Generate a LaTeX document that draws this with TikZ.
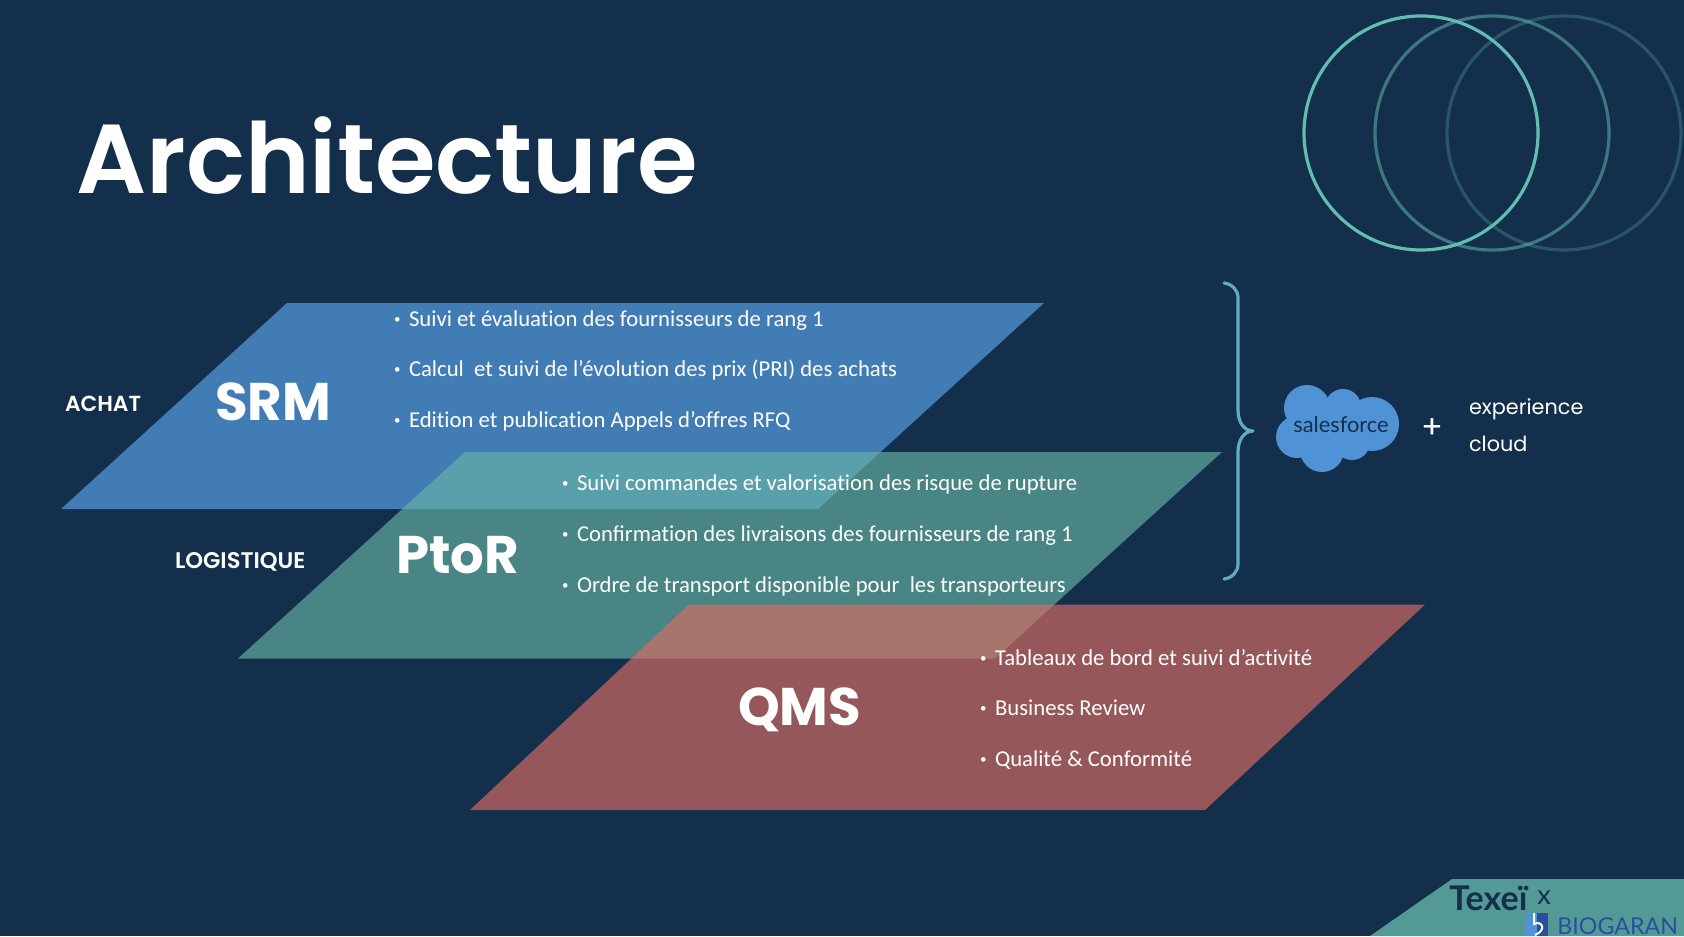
\documentclass[tikz,border=0pt]{standalone}
\usepackage{fontspec}
\setmainfont[Ligatures=NoCommon]{Carlito}
\newfontfamily\lat{Lato}
\newfontfamily\pop{Poppins}
\newfontfamily\pops[UprightFont=*-SemiBold]{Poppins}
\definecolor{bgc}{RGB}{19,47,76}
\definecolor{srmc}{RGB}{92,166,237}
\definecolor{ptorc}{RGB}{103,180,165}
\definecolor{qmsc}{RGB}{220,109,97}
\definecolor{ringc}{RGB}{98,190,175}
\definecolor{bracec}{RGB}{98,170,196}
\definecolor{cloudc}{RGB}{79,147,214}
\definecolor{footc}{RGB}{83,154,150}
\definecolor{biogc}{RGB}{42,78,160}
\newcommand{\bl}{\makebox[8pt][l]{\fontsize{6.5}{8}\selectfont\hspace{0.5pt}\raisebox{1.2pt}{•}}}
\tikzset{
  x=0.5pt,y=-0.5pt,
  plane/.style={opacity=0.65,draw=none},
  item/.style={anchor=base west,inner sep=0,outer sep=0,text=white,font=\fontsize{11.35}{14}\selectfont},
  big/.style={anchor=base west,inner sep=0,outer sep=0,text=white,font=\pop\bfseries\fontsize{26.5}{30}\selectfont},
  tag/.style={anchor=base west,inner sep=0,outer sep=0,text=white,font=\pops\fontsize{10.9}{13}\selectfont},
  plain/.style={anchor=base west,inner sep=0,outer sep=0,text=white,font=\pop\fontsize{10.4}{14}\selectfont},
  ring/.style={draw=ringc,line width=1.6pt}
}
\begin{document}
\begin{tikzpicture}
\useasboundingbox (0,0) rectangle (1684,936);
\clip (0,0) rectangle (1684,936);
\fill[bgc] (0,0) rectangle (1684,936);
% rings
\draw[ring,opacity=.28] (1564,133) circle (117);
\draw[ring,opacity=.52] (1492,133) circle (117);
\draw[ring] (1421,133) circle (117);
% planes
\fill[srmc,plane] (287,303) -- (1044,303) -- (818,509) -- (61,509) -- cycle;
\fill[ptorc,plane] (465,452) -- (1222,452) -- (995,658.5) -- (238,658.5) -- cycle;
\fill[qmsc,plane] (689,604.5) -- (1425,604.5) -- (1205,810) -- (470,810) -- cycle;
% title
\node[anchor=base west,inner sep=0,text=white,font=\pops\fontsize{49}{58}\selectfont] (title) at (76,194) {Architecture};
% labels
\node[tag] (achat) at (65,411) {ACHAT};
\node[tag,font=\pops\fontsize{11.3}{13}\selectfont] (logi) at (175,568) {LOGISTIQUE};
\node[big] (srm) at (215,420) {SRM};
\node[big] (ptor) at (396,573) {PtoR};
\node[big] (qms) at (738,725) {QMS};
% items
\node[item] (s1) at (393,326) {\bl Suivi et évaluation des fournisseurs de rang 1};
\node[item] (s2) at (393,376) {\bl Calcul \ et suivi de l’évolution des prix (PRI) des achats};
\node[item] (s3) at (393,427) {\bl Edition et publication Appels d’offres RFQ};
\node[item] (p1) at (561,490) {\bl Suivi commandes et valorisation des risque de rupture};
\node[item] (p2) at (561,541) {\bl Conﬁrmation des livraisons des fournisseurs de rang 1};
\node[item] (p3) at (561,592) {\bl Ordre de transport disponible pour \ les transporteurs};
\node[item] (q1) at (979,665) {\bl Tableaux de bord et suivi d’activité};
\node[item] (q2) at (979,715) {\bl Business Review};
\node[item] (q3) at (979,766) {\bl Qualité \& Conformité};
% brace
\draw[bracec,line width=1.6pt,line cap=round,line join=round] (1224,283) .. controls (1232,284) and (1238,290) .. (1238,298) -- (1238,410) .. controls (1238,422) and (1244,431) .. (1253,431) .. controls (1244,431) and (1238,440) .. (1238,452) -- (1238,564) .. controls (1238,572) and (1232,578) .. (1224,579);
% cloud
\fill[cloudc] (1307,408) circle (23) (1343,407) circle (18) (1372,424) circle (27) (1297,437) circle (21) (1322,450) circle (22) (1352,442) circle (18) (1335,425) circle (28);
\node[anchor=center,inner sep=0,text=bgc,font=\lat\fontsize{10.9}{14}\selectfont] (sf) at (1341,425) {salesforce};
\node[anchor=center,inner sep=0,text=white,font=\pop\fontsize{16}{18}\selectfont] (plus) at (1432,429) {+};
\node[plain] (exp) at (1469,414) {experience};
\node[plain] (cloud) at (1469,451) {cloud};
% footer
\fill[footc] (1452,879) -- (1684,879) -- (1684,936) -- (1370,936) -- cycle;
\node[anchor=base west,inner sep=0,text=bgc,font=\lat\bfseries\fontsize{17}{20}\selectfont] (tex) at (1449,910) {Texeï};
\node[anchor=base west,inner sep=0,text=bgc,font=\lat\fontsize{13.5}{15}\selectfont] (xx) at (1537,904) {x};
\fill[cloudc] (1525,913) rectangle (1537,936);
\fill[biogc] (1537,913) rectangle (1548,936);
\draw[white,line width=1pt] (1534,913) -- (1534,924) .. controls (1542,920) and (1547,930) .. (1535,935);
\node[anchor=base west,inner sep=0,text=biogc,font=\lat\fontsize{11.6}{13}\selectfont] (bio) at (1557,934) {BIOGARAN};
\end{tikzpicture}
\end{document}
